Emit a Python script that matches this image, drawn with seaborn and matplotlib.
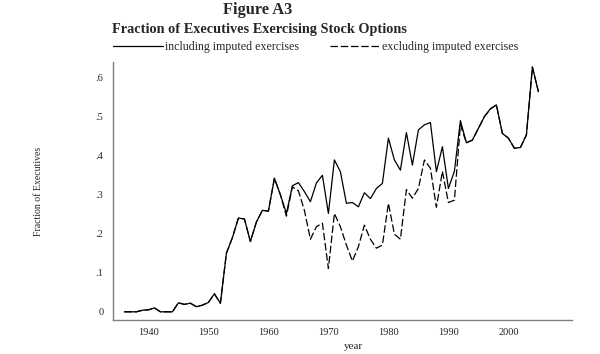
import matplotlib
matplotlib.use("Agg")
import matplotlib.pyplot as plt
import seaborn as sns
import pandas as pd
import numpy as np

years = list(range(1936, 2006))
including = [0.0, 0.0, 0.0, 0.004, 0.005, 0.01, 0.0, 0.0, 0.0, 0.023,
             0.019, 0.022, 0.013, 0.017, 0.024, 0.046, 0.022, 0.15, 0.19, 0.24,
             0.238, 0.18, 0.23, 0.26, 0.258, 0.342, 0.30, 0.252, 0.323, 0.331,
             0.308, 0.282, 0.33, 0.35, 0.252, 0.389, 0.359, 0.278, 0.28, 0.269,
             0.305, 0.29, 0.316, 0.329, 0.445, 0.389, 0.363, 0.459, 0.376, 0.466,
             0.479, 0.485, 0.359, 0.423, 0.316, 0.36, 0.49, 0.433, 0.44, 0.47,
             0.5, 0.52, 0.53, 0.457, 0.445, 0.419, 0.421, 0.453, 0.627, 0.564]
excluding = [0.0, 0.0, 0.0, 0.004, 0.005, 0.01, 0.0, 0.0, 0.0, 0.023,
             0.019, 0.022, 0.013, 0.017, 0.024, 0.046, 0.022, 0.15, 0.19, 0.24,
             0.238, 0.18, 0.23, 0.26, 0.258, 0.342, 0.30, 0.245, 0.32, 0.31,
             0.26, 0.186, 0.218, 0.227, 0.111, 0.252, 0.218, 0.171, 0.13, 0.167,
             0.222, 0.186, 0.163, 0.171, 0.278, 0.199, 0.186, 0.313, 0.291, 0.316,
             0.389, 0.368, 0.268, 0.36, 0.28, 0.286, 0.479, 0.433, 0.44, 0.47,
             0.5, 0.52, 0.53, 0.457, 0.445, 0.419, 0.421, 0.453, 0.627, 0.564]

xticks = [1940, 1950, 1960, 1970, 1980, 1990, 2000]
yticks = [0, 0.1, 0.2, 0.3, 0.4, 0.5, 0.6]
ytick_labels = ["0", ".1", ".2", ".3", ".4", ".5", ".6"]
series_names = ["including imputed exercises", "excluding imputed exercises"]

sns.set_style("white")
plt.rcParams["font.family"] = ["Liberation Serif", "DejaVu Serif"]

df = pd.DataFrame({"year": years, "inc": including, "exc": excluding})

fig = plt.figure(figsize=(6.0, 3.54), dpi=100)
ax = fig.add_axes([113/600, 34/354, 459/600, 258/354])

sns.lineplot(data=df, x="year", y="exc", ax=ax, color="black", lw=0.9,
             label=series_names[1])
ax.lines[-1].set_dashes([6, 2.2])
sns.lineplot(data=df, x="year", y="inc", ax=ax, color="black", lw=0.9,
             label=series_names[0])

ax.set_xlim(1934.1, 2010.6)
ax.set_ylim(-0.021, 0.64)
ax.set_xticks(xticks)
ax.set_yticks(yticks)
ax.set_yticklabels(ytick_labels)
ax.tick_params(axis="both", direction="out", length=4, width=0.8,
               color="#333333", labelsize=7.5, pad=2)
ax.tick_params(axis="y", length=5)
for s in ["top", "right"]:
    ax.spines[s].set_visible(False)
for s in ["left", "bottom"]:
    ax.spines[s].set_color("#808080")
    ax.spines[s].set_linewidth(1.0)
ax.set_xlabel("year", fontsize=8)
ax.xaxis.set_label_coords((353 - 113) / 459, -0.085)
ax.set_ylabel("Fraction of Executives", fontsize=7, labelpad=38)

handles, labels = ax.get_legend_handles_labels()
ax.get_legend().remove()
order = [labels.index(series_names[0]), labels.index(series_names[1])]
fig.legend([handles[i] for i in order], [labels[i] for i in order],
           loc="center left", bbox_to_anchor=(113/600, 1 - 47/354),
           ncol=2, frameon=False, fontsize=8.6, handlelength=4.2,
           handletextpad=0.15, columnspacing=2.6, borderpad=0, borderaxespad=0)

fig.text(258/600, 1 - 10/354, "Figure A3", ha="center", va="center",
         fontsize=11.8, fontweight="bold")
fig.text(259/600, 1 - 30/354, "Fraction of Executives Exercising Stock Options",
         ha="center", va="center", fontsize=10.3, fontweight="bold")

fig.savefig("out.png", dpi=100)
